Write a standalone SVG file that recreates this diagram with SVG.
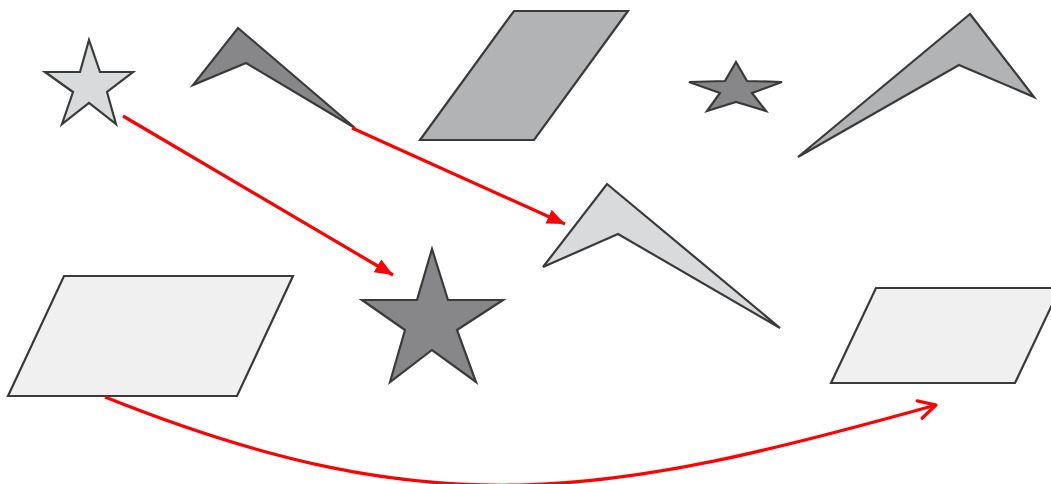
<svg xmlns="http://www.w3.org/2000/svg" width="1051" height="484" viewBox="0 0 1051 484">
<style>
.shape{stroke:#3a3a3a;stroke-width:2.2;stroke-linejoin:miter}
.light{fill:#d9dadc}
.mid{fill:#b2b3b5}
.dark{fill:#878789}
.pale{fill:#f0f0f0}
.conn{fill:none;stroke:#ff0000;stroke-width:3.2}
</style>
<defs>
<marker id="tri" markerUnits="userSpaceOnUse" markerWidth="22" markerHeight="18" refX="18" refY="9" orient="auto">
<path d="M0,1.5 L18,9 L0,16.5 Z" fill="#ff0000"/>
</marker>
<marker id="vee" markerUnits="userSpaceOnUse" markerWidth="26" markerHeight="26" refX="20" refY="13" orient="auto">
<path d="M3,4 L20,13 L3,22" fill="none" stroke="#ff0000" stroke-width="3.2" stroke-linecap="round" stroke-linejoin="round"/>
</marker>
</defs>
<rect width="1051" height="484" fill="#ffffff"/>
<g id="star-small-light"><polygon class="shape light" points="89,40 100,72 133,72 107,92 116,124 89,103 62,124 73,92 45,72 80,72"/></g>
<g id="chevron-dark"><polygon class="shape dark" points="238,28 355,128 246,63 193,85"/></g>
<g id="parallelogram-top"><polygon class="shape mid" points="420,140 514,11 628,11 534,140"/></g>
<g id="star-small-dark"><polygon class="shape dark" points="736,62 747,81 782,82 752,93 766,111 736,102 707,111 720,93 689,82 725,81"/></g>
<g id="chevron-top-right"><polygon class="shape mid" points="970,14 1034,97 959,65 798,157"/></g>
<g id="star-large-dark"><polygon class="shape dark" points="432,249 448,300 503,300 457,330 476,382 432,350 390,382 405,330 362,300 417,300"/></g>
<g id="chevron-middle"><polygon class="shape light" points="607,184 780,328 618,234 543,267"/></g>
<g id="parallelogram-bottom-left"><polygon class="shape pale" points="8,396 64,276 293,276 237,396"/></g>
<g id="parallelogram-bottom-right"><polygon class="shape pale" points="831,383 876,288 1060,288 1015,383"/></g>
<g id="connectors">
<path class="conn" d="M123,116 L393,275" marker-end="url(#tri)"/>
<path class="conn" d="M352,128 L565,224" marker-end="url(#tri)"/>
<path class="conn" d="M105,397 C435,529 607,497 936,405" marker-end="url(#vee)"/>
</g>
</svg>
